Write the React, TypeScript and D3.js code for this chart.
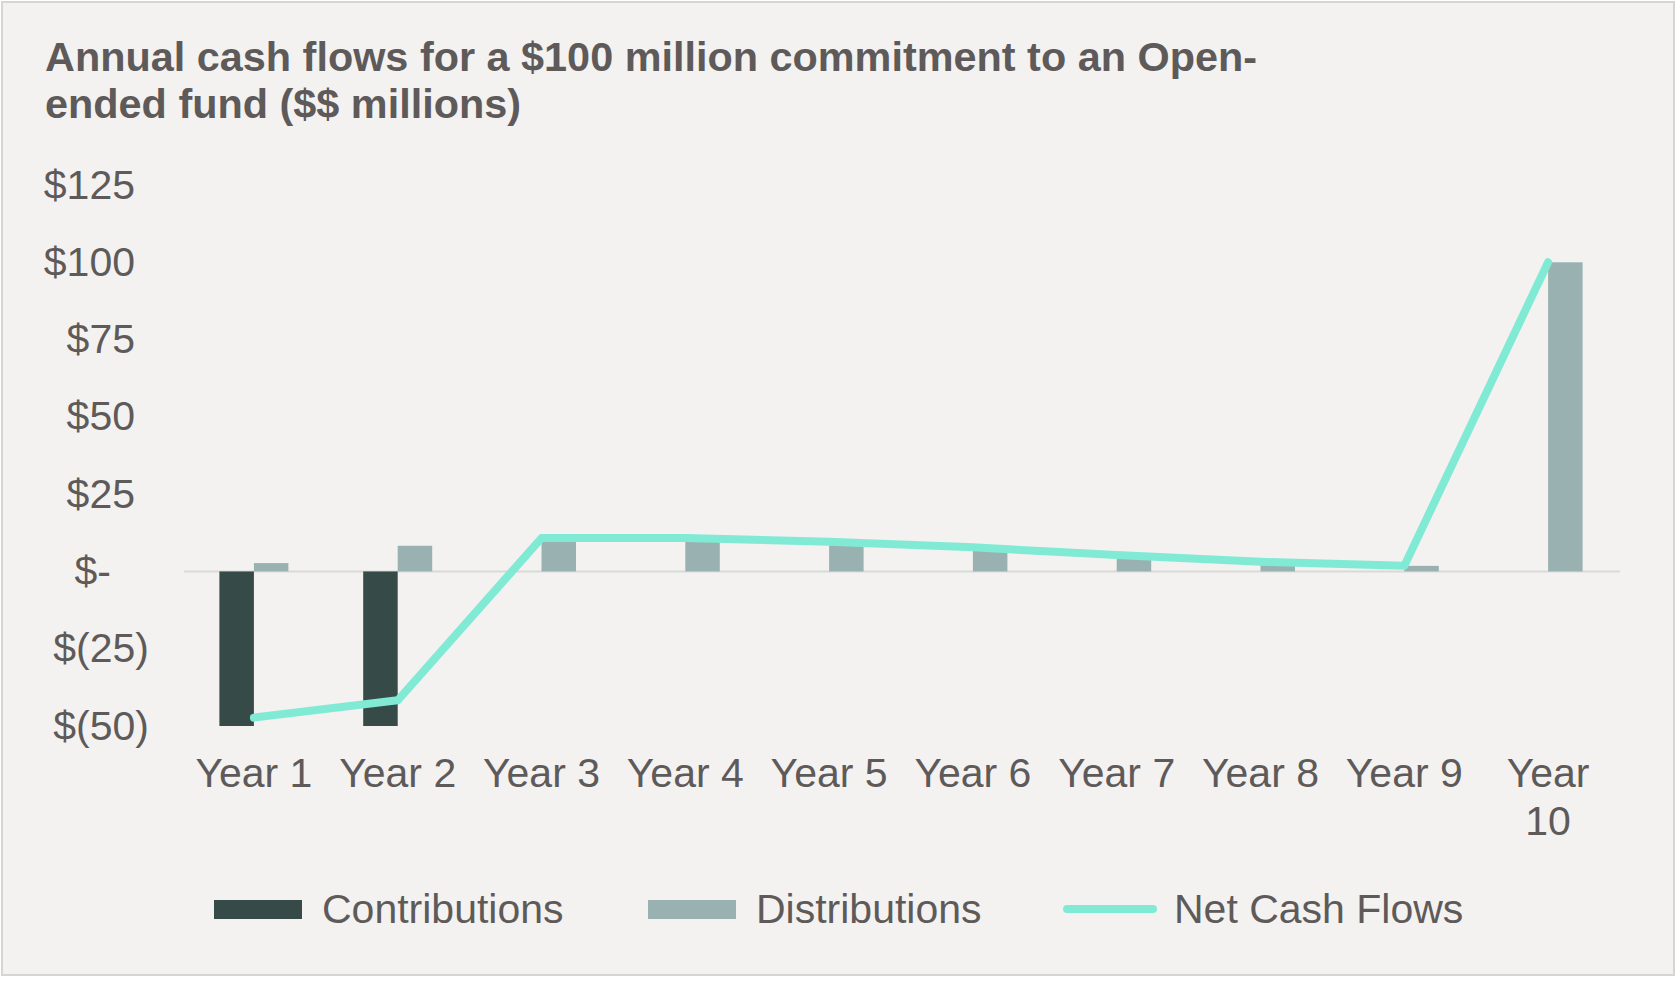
import { useRef, useEffect } from 'react'
import * as d3 from 'd3'

const years = ['Year 1', 'Year 2', 'Year 3', 'Year 4', 'Year 5', 'Year 6', 'Year 7', 'Year 8', 'Year 9', 'Year 10']
const contributions = [-50, -50, 0, 0, 0, 0, 0, 0, 0, 0]
const distributions = [2.7, 8.3, 10.8, 10.8, 9.6, 7.8, 5.3, 3.1, 1.8, 100]
const netCashFlows = [-47.3, -41.7, 10.8, 10.8, 9.6, 7.8, 5.3, 3.1, 1.8, 100]
const yTicks = [-50, -25, 0, 25, 50, 75, 100, 125]
const titleLines = ['Annual cash flows for a $100 million commitment to an Open-', 'ended fund ($$ millions)']

const W = 1677
const H = 985
const FONT = 'Arial, "Liberation Sans", Helvetica, sans-serif'
const TEXT = '#5f5a5a'
const C_CONTRIB = '#364a48'
const C_DIST = '#99b2b1'
const C_NET = '#80ead5'

// accounting style: $125, $-, $(25)
const fmt = (v: number) => (v === 0 ? '$-' : v < 0 ? `$(${-v})` : `$${v}`)

const Chart = () => {
  const svgRef = useRef<SVGSVGElement>(null)

  useEffect(() => {
    const svg = d3.select(svgRef.current)
    svg.selectAll('*').remove()

    svg.append('rect').attr('width', W).attr('height', H).attr('fill', '#ffffff')
    svg.append('rect')
      .attr('x', 2).attr('y', 2).attr('width', W - 5).attr('height', H - 12)
      .attr('fill', '#f3f2f0').attr('stroke', '#d6d5d3').attr('stroke-width', 2)

    // title
    const title = svg.append('text')
      .attr('font-family', FONT).attr('font-weight', 'bold').attr('font-size', 41.4)
      .attr('fill', TEXT)
    title.selectAll('tspan').data(titleLines).enter().append('tspan')
      .attr('x', 45)
      .attr('y', (_, i) => 71 + i * 47)
      .text(d => d)

    const x = d3.scaleBand<string>().domain(years).range([182, 1620]).padding(0)
    const cx = (d: string) => (x(d) ?? 0) + x.bandwidth() / 2
    const y = d3.scaleLinear().domain([-50, 125]).range([726, 185])
    const barW = 34.5

    // y labels
    svg.append('g').selectAll('text').data(yTicks).enter().append('text')
      .attr('x', d => (d === 0 ? 111 : d < 0 ? 149 : 135))
      .attr('y', d => y(d))
      .attr('dy', '0.33em')
      .attr('text-anchor', 'end')
      .attr('font-family', FONT).attr('font-size', 41).attr('fill', TEXT)
      .text(d => fmt(d))

    // zero line
    svg.append('line')
      .attr('x1', 184).attr('x2', 1620)
      .attr('y1', y(0)).attr('y2', y(0))
      .attr('stroke', '#d9d9d9').attr('stroke-width', 2)

    // contributions
    svg.append('g').selectAll('rect').data(years).enter().append('rect')
      .attr('x', d => cx(d) - barW)
      .attr('width', barW)
      .attr('y', (_, i) => Math.min(y(0), y(contributions[i])))
      .attr('height', (_, i) => Math.abs(y(contributions[i]) - y(0)))
      .attr('fill', C_CONTRIB)

    // distributions
    svg.append('g').selectAll('rect').data(years).enter().append('rect')
      .attr('x', d => cx(d))
      .attr('width', barW)
      .attr('y', (_, i) => Math.min(y(0), y(distributions[i])))
      .attr('height', (_, i) => Math.abs(y(distributions[i]) - y(0)))
      .attr('fill', C_DIST)

    // net cash flow line
    const line = d3.line<number>()
      .x((_, i) => cx(years[i]))
      .y(d => y(d))
    svg.append('path')
      .attr('d', line(netCashFlows))
      .attr('fill', 'none')
      .attr('stroke', C_NET)
      .attr('stroke-width', 8)
      .attr('stroke-linecap', 'round')
      .attr('stroke-linejoin', 'round')

    // x labels, wrapping "Year 10" onto two lines
    const xl = svg.append('g').selectAll('text').data(years).enter().append('text')
      .attr('text-anchor', 'middle')
      .attr('font-family', FONT).attr('font-size', 41).attr('fill', TEXT)
    xl.each(function (d) {
      const t = d3.select(this)
      const words = d === 'Year 10' ? d.split(' ') : [d]
      words.forEach((w, i) => {
        t.append('tspan').attr('x', cx(d)).attr('y', 787 + i * 48).text(w)
      })
    })

    // legend
    const lg = svg.append('g').attr('font-family', FONT).attr('font-size', 41).attr('fill', TEXT)
    lg.append('rect').attr('x', 214).attr('y', 900).attr('width', 88).attr('height', 19).attr('fill', C_CONTRIB)
    lg.append('text').attr('x', 322).attr('y', 909).attr('dy', '0.34em').text('Contributions')
    lg.append('rect').attr('x', 648).attr('y', 900).attr('width', 88).attr('height', 19).attr('fill', C_DIST)
    lg.append('text').attr('x', 756).attr('y', 909).attr('dy', '0.34em').text('Distributions')
    lg.append('line').attr('x1', 1067).attr('x2', 1153).attr('y1', 909).attr('y2', 909)
      .attr('stroke', C_NET).attr('stroke-width', 8).attr('stroke-linecap', 'round')
    lg.append('text').attr('x', 1174).attr('y', 909).attr('dy', '0.34em').text('Net Cash Flows')
  }, [])

  return <svg ref={svgRef} width={W} height={H} style={{ position: 'absolute', left: 0, top: 0 }}></svg>
}

export default function App() {
  return <Chart />
}
